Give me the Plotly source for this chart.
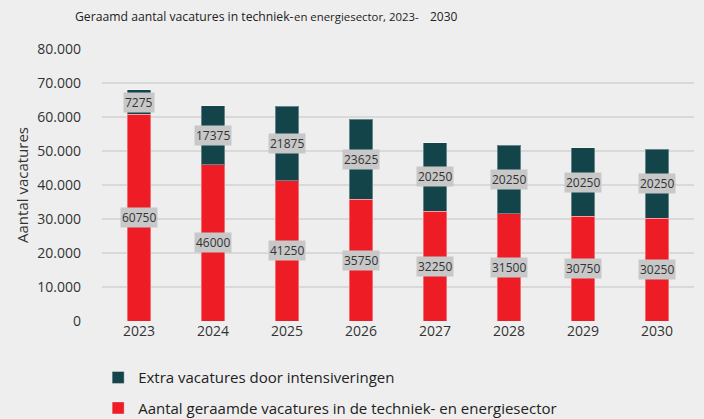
import plotly.graph_objects as go

years = ["2023", "2024", "2025", "2026", "2027", "2028", "2029", "2030"]
base_vacatures = [60750, 46000, 41250, 35750, 32250, 31500, 30750, 30250]
extra_vacatures = [7275, 17375, 21875, 23625, 20250, 20250, 20250, 20250]
title_parts = ["Geraamd aantal vacatures in techniek-", "en energiesector, 2023-", "2030"]

RED = "#ee1c25"
TEAL = "#12444a"
BG = "#eeeeee"
FONT = "Open Sans"

fig = go.Figure()
fig.add_bar(
    x=years, y=base_vacatures, name="Aantal geraamde vacatures in de techniek- en energiesector",
    marker=dict(color=RED, line=dict(color="rgba(255,255,255,0.35)", width=1)),
    legendgroup="a", legendrank=2, hoverinfo="skip",
)
fig.add_bar(
    x=years, y=extra_vacatures, name="Extra vacatures door intensiveringen",
    marker=dict(color=TEAL, line=dict(color="rgba(255,255,255,0.35)", width=1)),
    legendgroup="b", legendrank=1, hoverinfo="skip",
)

for i, (b, e) in enumerate(zip(base_vacatures, extra_vacatures)):
    fig.add_annotation(x=i, y=b / 2, text=str(b), showarrow=False,
                       bgcolor="#c8c8c8", borderpad=1,
                       font=dict(family=FONT, size=12, color="#333333"))
    fig.add_annotation(x=i, y=b + e / 2, text=str(e), showarrow=False,
                       bgcolor="#c8c8c8", borderpad=1,
                       font=dict(family=FONT, size=12, color="#333333"))

# title pieces (the reference title has wide gaps between these pieces)
PLOT_L, PLOT_W, PLOT_B, PLOT_H = 102, 592, 321, 272
for part, px, fs in zip(title_parts, [73, 292, 428], [12.2, 11.4, 12]):
    fig.add_annotation(
        xref="paper", yref="paper",
        x=(px - PLOT_L) / PLOT_W, y=(PLOT_B - 17) / PLOT_H,
        xanchor="left", yanchor="middle", showarrow=False,
        text=part, font=dict(family=FONT, size=fs, color="#222222"),
    )

fig.update_layout(
    width=704, height=419,
    paper_bgcolor=BG, plot_bgcolor=BG,
    barmode="stack", bargap=0.68,
    separators=",.",
    margin=dict(l=102, r=10, t=49, b=98),
    font=dict(family=FONT, size=14, color="#333333"),
    legend=dict(
        orientation="v", x=-0.0065, xanchor="left",
        yref="container", y=0.138, yanchor="top",
        font=dict(family=FONT, size=15, color="#222222"),
        traceorder="grouped", tracegroupgap=8,
        bgcolor="rgba(0,0,0,0)",
    ),
    xaxis=dict(type="category", showgrid=False, showline=False, ticks="",
               tickfont=dict(size=14, color="#333333")),
    yaxis=dict(range=[0, 80000], dtick=10000, tickformat=",d",
               gridcolor="#d9d9d9", gridwidth=2, zeroline=False,
               showline=False, ticklabelstandoff=20,
               tickfont=dict(size=14, color="#333333"),
               title=dict(text="Aantal vacatures", standoff=5,
                          font=dict(size=15, color="#333333"))),
)

fig.write_html("out.html", config={"displayModeBar": False},
               post_script="document.body.style.margin='0';document.body.style.background='#eeeeee';")
